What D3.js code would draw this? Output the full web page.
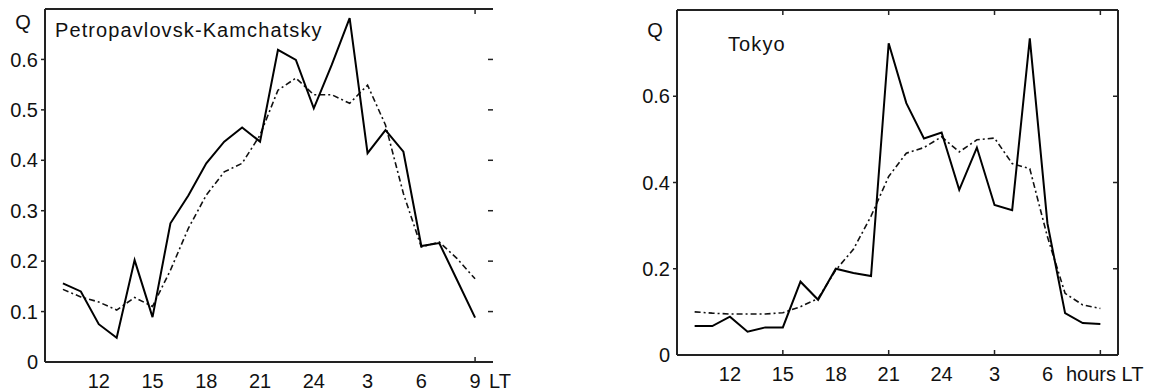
<!DOCTYPE html>
<html>
<head>
    <meta charset="utf-8" />
    <title>Q diurnal variation</title>
    <style>
        body { margin: 0; background: #fff; }
        text { font-family: Arial, "Liberation Sans", sans-serif; fill: #111; }
    </style>
</head>
<body>
    <div id="chart"></div>
    <script src="https://cdn.jsdelivr.net/npm/d3@7"></script>
    <script>
        // local time, hours (24 = midnight, 25..33 = 1..9 next day)
        var hours = [10, 11, 12, 13, 14, 15, 16, 17, 18, 19, 20, 21, 22, 23, 24, 25, 26, 27, 28, 29, 30, 31, 32, 33];

        var petroSolid = [0.156, 0.14, 0.075, 0.048, 0.202, 0.089, 0.275, 0.33, 0.394, 0.437, 0.465, 0.437,
                          0.619, 0.599, 0.503, 0.589, 0.682, 0.414, 0.46, 0.417, 0.23, 0.236, 0.162, 0.088];
        var petroDash  = [0.144, 0.129, 0.119, 0.103, 0.128, 0.11, 0.182, 0.265, 0.331, 0.377, 0.394, 0.45,
                          0.539, 0.563, 0.53, 0.53, 0.513, 0.549, 0.47, 0.334, 0.228, 0.238, 0.205, 0.165];

        var tokyoSolid = [0.067, 0.067, 0.089, 0.054, 0.064, 0.064, 0.17, 0.128, 0.2, 0.19, 0.183, 0.723,
                          0.584, 0.502, 0.516, 0.383, 0.481, 0.348, 0.336, 0.734, 0.305, 0.097, 0.074, 0.072];
        var tokyoDash  = [0.1, 0.097, 0.095, 0.095, 0.095, 0.098, 0.112, 0.131, 0.197, 0.245, 0.322, 0.414,
                          0.468, 0.481, 0.506, 0.471, 0.499, 0.503, 0.444, 0.432, 0.274, 0.143, 0.116, 0.108];

        var xTickHours  = [12, 15, 18, 21, 24, 27, 30, 33];
        var petroXLabels = ["12", "15", "18", "21", "24", "3", "6", "9"];
        var tokyoXLabels = ["12", "15", "18", "21", "24", "3", "6", ""];
        var petroYTicks = [0, 0.1, 0.2, 0.3, 0.4, 0.5, 0.6];
        var tokyoYTicks = [0, 0.2, 0.4, 0.6];

        var width = 1156, height = 391;

        var svg = d3.select("#chart").append("svg")
            .attr("width", width)
            .attr("height", height);

        function drawPanel(p) {
            var x = d3.scaleLinear().domain([9, 34]).range([p.left, p.right]);
            var y = d3.scaleLinear().domain([0, p.yMax]).range([p.bottom, p.top]);
            var g = svg.append("g");

            // frame
            var frame = g.append("g").attr("stroke", "#222").attr("stroke-width", 2).attr("fill", "none");
            frame.append("line").attr("x1", p.left).attr("x2", p.left).attr("y1", p.top).attr("y2", p.bottom);
            frame.append("line").attr("x1", p.left).attr("x2", p.right).attr("y1", p.top).attr("y2", p.top);
            frame.append("line").attr("x1", p.left).attr("x2", p.right).attr("y1", p.bottom).attr("y2", p.bottom);
            if (p.rightBorder)
                frame.append("line").attr("x1", p.right).attr("x2", p.right).attr("y1", p.top).attr("y2", p.bottom);

            // y ticks: outward on the left, inward on the right
            var yt = g.append("g").attr("stroke", "#222").attr("stroke-width", 1.5);
            p.yTicks.forEach(function (v) {
                if (v === 0) return;
                yt.append("line").attr("x1", p.left - 4).attr("x2", p.left).attr("y1", y(v)).attr("y2", y(v));
                yt.append("line").attr("x1", p.right - 5).attr("x2", p.right).attr("y1", y(v)).attr("y2", y(v));
            });
            g.append("g").selectAll("text")
                .data(p.yTicks)
                .join("text")
                .attr("x", p.left - 7)
                .attr("y", d => y(d))
                .attr("dy", "0.36em")
                .attr("text-anchor", "end")
                .attr("font-size", 20)
                .text(d => d === 0 ? "0" : d3.format(".1f")(d));

            // x ticks (top and bottom, inward)
            p.xTicks.forEach(function (h) {
                yt.append("line").attr("x1", x(h)).attr("x2", x(h)).attr("y1", p.bottom).attr("y2", p.bottom - 5);
                yt.append("line").attr("x1", x(h)).attr("x2", x(h)).attr("y1", p.top).attr("y2", p.top + 5);
            });
            g.append("g").selectAll("text")
                .data(xTickHours)
                .join("text")
                .attr("x", d => x(d))
                .attr("y", p.bottom + 26)
                .attr("text-anchor", "middle")
                .attr("font-size", 20)
                .text((d, i) => p.xLabels[i]);

            g.append("text")
                .attr("x", p.unitX)
                .attr("y", p.bottom + 26)
                .attr("font-size", 20)
                .text(p.unit);

            g.append("text")
                .attr("x", p.qX).attr("y", p.qY)
                .attr("text-anchor", "middle")
                .attr("font-size", 20)
                .text("Q");

            g.append("text")
                .attr("x", p.titleX).attr("y", p.titleY)
                .attr("font-size", 20)
                .attr("letter-spacing", 1.1)
                .text(p.title);

            var line = d3.line().x((d, i) => x(hours[i])).y(d => y(d));

            g.append("path")
                .attr("d", line(p.dash))
                .attr("fill", "none")
                .attr("stroke", "#111")
                .attr("stroke-width", 1.6)
                .attr("stroke-dasharray", "6,3,2,3");

            g.append("path")
                .attr("d", line(p.solid))
                .attr("fill", "none")
                .attr("stroke", "#000")
                .attr("stroke-width", 2);
        }

        drawPanel({
            left: 45, right: 493, top: 9, bottom: 362, yMax: 0.7,
            rightBorder: false,
            yTicks: petroYTicks, xTicks: [33], xLabels: petroXLabels,
            unit: "LT", unitX: 489,
            qX: 23, qY: 29,
            title: "Petropavlovsk-Kamchatsky", titleX: 55, titleY: 37,
            solid: petroSolid, dash: petroDash
        });

        drawPanel({
            left: 677, right: 1118, top: 10, bottom: 355, yMax: 0.8,
            rightBorder: true,
            yTicks: tokyoYTicks, xTicks: [15, 21, 27, 33], xLabels: tokyoXLabels,
            unit: "hours LT", unitX: 1066,
            qX: 655, qY: 37,
            title: "Tokyo", titleX: 728, titleY: 51,
            solid: tokyoSolid, dash: tokyoDash
        });
    </script>
</body>
</html>
